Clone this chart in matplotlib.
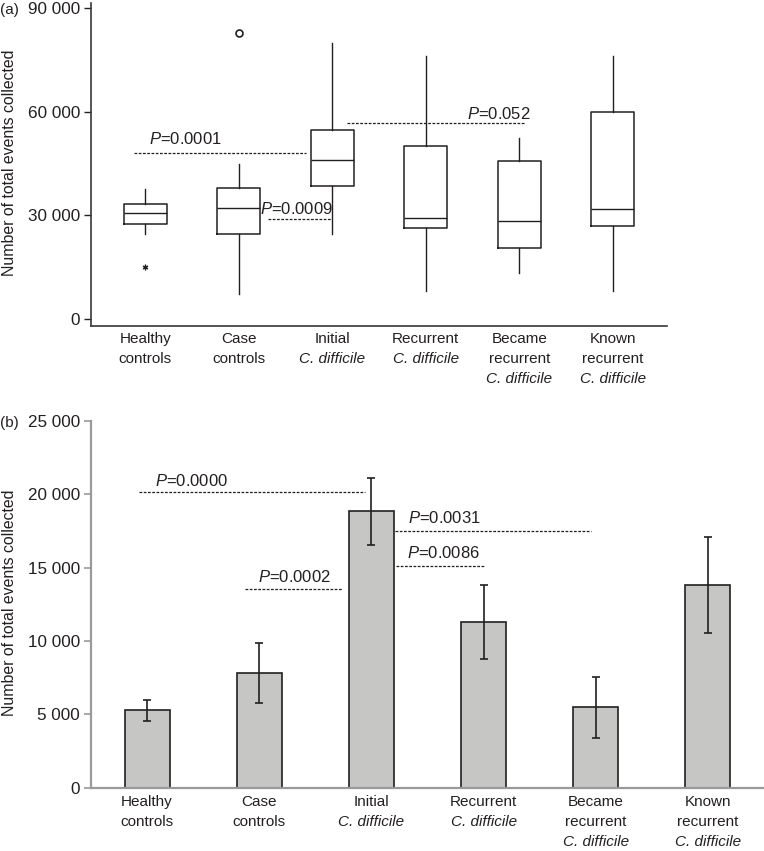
import matplotlib
matplotlib.use("Agg")
import matplotlib.pyplot as plt
from matplotlib.ticker import FuncFormatter

plt.rcParams['font.family'] = ['Liberation Sans', 'DejaVu Sans']
plt.rcParams['mathtext.fontset'] = 'custom'
plt.rcParams['mathtext.rm'] = 'Liberation Sans'
plt.rcParams['mathtext.it'] = 'Liberation Sans:italic'

INK = '#231f20'
GREY_AX = '#9a9a9a'

# group labels: (plain lines, italic lines)
groups = [
    (["Healthy", "controls"], []),
    (["Case", "controls"], []),
    (["Initial"], ["C. difficile"]),
    (["Recurrent"], ["C. difficile"]),
    (["Became", "recurrent"], ["C. difficile"]),
    (["Known", "recurrent"], ["C. difficile"]),
]

# (a) box plot summary
whis_lo = [24500, 7200, 24500, 8100, 13400, 8100]
q1 = [27400, 24500, 38500, 26250, 20640, 26830]
med = [30600, 32200, 45900, 29150, 28360, 31930]
q3 = [33370, 37800, 54600, 50160, 45800, 60000]
whis_hi = [37540, 44860, 79800, 76100, 52300, 76100]
out_star = [(0, 15140)]
out_circle = [(1, 82770)]

# (a) comparisons: text, y level, x from, x to
sig_a = [
    ("0.0001", 47950, -0.12, 1.72),
    ("0.0009", 29030, 1.31, 1.99),
    ("0.052", 56630, 2.16, 4.05),
]
sig_a_text = [(0.04, 52090), (1.23, 31920), (3.44, 59330)]

# (b) bar means with error bar limits
means = [5290, 7810, 18840, 11260, 5470, 13780]
err_lo = [4540, 5790, 16530, 8740, 3360, 10510]
err_hi = [5970, 9830, 21070, 13780, 7560, 17050]

sig_b = [
    ("0.0000", 20160, -0.07, 1.94),
    ("0.0002", 13510, 0.87, 1.74),
    ("0.0031", 17480, 2.21, 3.96),
    ("0.0086", 15100, 2.22, 3.00),
]
sig_b_text = [(0.07, 20910), (0.99, 14370), (2.33, 18390), (2.32, 16000)]

fig = plt.figure(figsize=(7.64, 8.51), dpi=100)
W, H = 764, 851

fmt = FuncFormatter(lambda v, p: f"{int(v):,}".replace(",", " "))


def group_labels(ax, offsets):
    for i, (plain, ital) in enumerate(groups):
        lines = [(t, 'normal') for t in plain] + [(t, 'italic') for t in ital]
        for (t, st), off in zip(lines, offsets):
            ax.annotate(t, xy=(i, 0), xycoords=('data', 'axes fraction'),
                        xytext=(0, off), textcoords='offset pixels',
                        ha='center', va='center', fontsize=11,
                        fontstyle=st, color=INK, annotation_clip=False)


# ---- panel (a)
ax = fig.add_axes([91 / W, 1 - 326 / H, (667 - 91) / W, (326 - 3) / H])
stats = []
for i in range(len(groups)):
    stats.append(dict(med=med[i], q1=q1[i], q3=q3[i], whislo=whis_lo[i],
                      whishi=whis_hi[i], fliers=[]))
ax.bxp(stats, positions=range(len(groups)), widths=0.46, showcaps=False,
       boxprops=dict(color=INK, linewidth=1.1),
       whiskerprops=dict(color=INK, linewidth=1.0),
       medianprops=dict(color=INK, linewidth=1.0),
       manage_ticks=False)
ax.plot([p[0] for p in out_star], [p[1] for p in out_star], marker=(6, 2, 0),
        ms=4, mew=0.9, color=INK, ls='none')
ax.plot([p[0] for p in out_circle], [p[1] for p in out_circle], marker='o',
        ms=5, mfc='none', mec=INK, mew=1.2, ls='none')
for (p, y, x0, x1), (tx, ty) in zip(sig_a, sig_a_text):
    ax.plot([x0, x1], [y, y], ls=(0, (2.2, 1.2)), lw=0.9, color=INK)
    ax.text(tx, ty, "$P$=" + p, ha='left', va='center', fontsize=12, color=INK)
ax.set_xlim(-0.58, 5.58)
ax.set_ylim(-2030, 91450)
ax.set_yticks([0, 30000, 60000, 90000])
ax.yaxis.set_major_formatter(fmt)
ax.set_xticks([])
for s in ['top', 'right']:
    ax.spines[s].set_visible(False)
for s in ['left', 'bottom']:
    ax.spines[s].set_color('#3a3636')
    ax.spines[s].set_linewidth(1.2)
ax.tick_params(axis='y', length=5, width=1, color=INK, labelsize=12.3,
               labelcolor=INK, pad=3)
group_labels(ax, [-13, -33, -53])

# ---- panel (b)
bx = fig.add_axes([91 / W, 1 - 787.7 / H, (764 - 91) / W, (787.7 - 420.7) / H])
x = list(range(len(groups)))
yerr = [[m - lo for m, lo in zip(means, err_lo)],
        [hi - m for m, hi in zip(means, err_hi)]]
bx.bar(x, means, width=0.4, color='#c6c7c5', edgecolor=INK, linewidth=1.2,
       zorder=2)
bx.errorbar(x, means, yerr=yerr, fmt='none', ecolor=INK, elinewidth=1.2,
            capsize=3, capthick=1.2, zorder=3)
for (p, y, x0, x1), (tx, ty) in zip(sig_b, sig_b_text):
    bx.plot([x0, x1], [y, y], ls=(0, (2.2, 1.2)), lw=0.9, color=INK)
    bx.text(tx, ty, "$P$=" + p, ha='left', va='center', fontsize=12, color=INK)
bx.set_xlim(-0.5, 5.5)
bx.set_ylim(0, 25000)
bx.set_yticks(range(0, 25001, 5000))
bx.yaxis.set_major_formatter(fmt)
bx.set_xticks([])
for s in ['top', 'right']:
    bx.spines[s].set_visible(False)
for s in ['left', 'bottom']:
    bx.spines[s].set_color(GREY_AX)
    bx.spines[s].set_linewidth(1.6)
bx.tick_params(axis='y', length=5, width=1.2, color=GREY_AX, labelsize=12.3,
               labelcolor=INK, pad=3)
group_labels(bx, [-14, -34, -54])

# y-axis titles and panel letters
fig.text(10 / W, 1 - 163 / H, "Number of total events collected", rotation=90,
         ha='center', va='center', fontsize=11.4, color=INK)
fig.text(10 / W, 1 - 603 / H, "Number of total events collected", rotation=90,
         ha='center', va='center', fontsize=11.4, color=INK)
fig.text(0, 1 - 10 / H, "(a)", ha='left', va='center', fontsize=11, color=INK)
fig.text(0, 1 - 423 / H, "(b)", ha='left', va='center', fontsize=11, color=INK)

fig.savefig("out.png", dpi=100, facecolor='white')
